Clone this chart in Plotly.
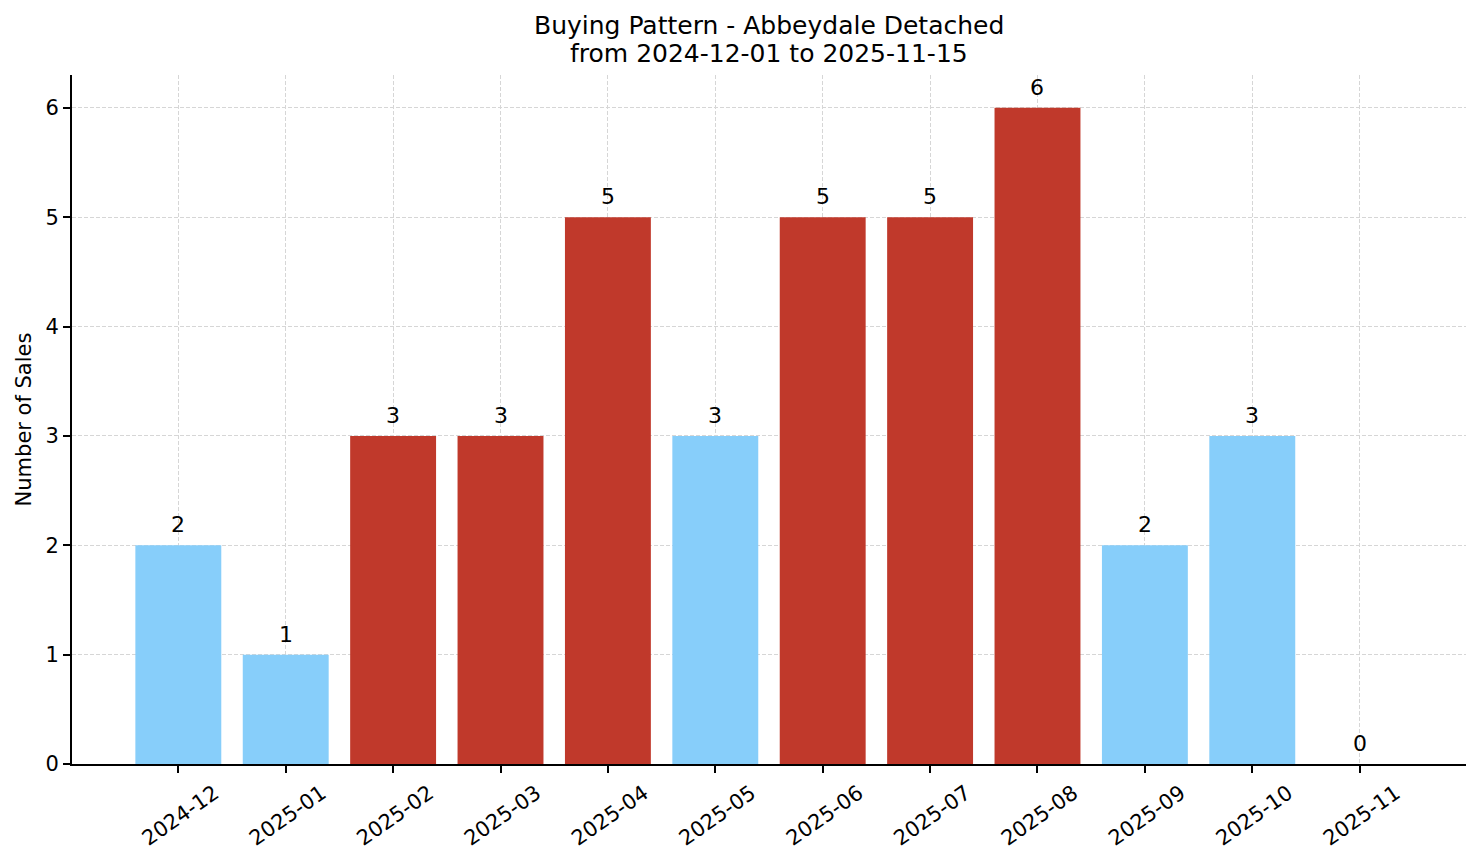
import plotly.graph_objects as go

# ---- data ----
months = ["2024-12", "2025-01", "2025-02", "2025-03", "2025-04", "2025-05",
          "2025-06", "2025-07", "2025-08", "2025-09", "2025-10", "2025-11"]
sales = [2, 1, 3, 3, 5, 3, 5, 5, 6, 2, 3, 0]
peak = [False, False, True, True, True, False, True, True, True, False, False, False]
y_ticks = [0, 1, 2, 3, 4, 5, 6]
title_lines = ["Buying Pattern - Abbeydale Detached", "from 2024-12-01 to 2025-11-15"]

# ---- styles ----
RED = "#C0392B"
BLUE = "#87CEFA"
FONT = "DejaVu Sans"
GRID = "#d6d6d6"
colors = [RED if p else BLUE for p in peak]

W, H = 1481, 863
ML, MR, MT, MB = 72, 15, 75, 94
plot_h = H - MT - MB

fig = go.Figure()
fig.add_trace(go.Bar(
    x=months, y=sales, marker=dict(color=colors, line=dict(width=0)),
    width=0.8, hoverinfo="skip", showlegend=False,
))

for m, v in zip(months, sales):
    fig.add_annotation(
        x=m, y=v, xref="x", yref="y", text=str(v), showarrow=False,
        yanchor="bottom", yshift=6, font=dict(family=FONT, size=22, color="black"),
    )

# two-line title, centred over the plot area
for line, ypx in zip(title_lines, [25, 53]):
    fig.add_annotation(
        x=0.5, xref="paper", y=(H - MB - ypx) / plot_h, yref="paper",
        text=line, showarrow=False, xanchor="center", yanchor="middle",
        font=dict(family=FONT, size=25, color="black"),
    )

fig.update_layout(
    width=W, height=H,
    paper_bgcolor="white", plot_bgcolor="white",
    margin=dict(l=ML, r=MR, t=MT, b=MB),
    bargap=0.2,
    font=dict(family=FONT, size=21, color="black"),
)

fig.update_xaxes(
    type="category", range=[-0.99, 11.99],
    showline=True, linecolor="black", linewidth=1.7,
    ticks="outside", ticklen=7, tickwidth=1.7, tickcolor="black",
    tickangle=-35, ticklabelshift=36,
    tickfont=dict(family=FONT, size=21, color="black"),
    showgrid=True, gridcolor=GRID, gridwidth=0.8, griddash="4px,2px",
    layer="above traces", zeroline=False, fixedrange=True,
)
fig.update_yaxes(
    range=[0, 6.3], tickvals=y_ticks,
    showline=True, linecolor="black", linewidth=1.7,
    ticks="outside", ticklen=7, tickwidth=1.7, tickcolor="black",
    tickfont=dict(family=FONT, size=21, color="black"),
    showgrid=True, gridcolor=GRID, gridwidth=0.8, griddash="4px,2px",
    layer="above traces", zeroline=False, fixedrange=True,
    title=dict(text="Number of Sales", standoff=8,
               font=dict(family=FONT, size=21, color="black")),
)

fig.write_html(
    "out.html",
    config={"displayModeBar": False},
    post_script="document.body.style.margin='0';document.body.style.overflow='hidden';",
)
